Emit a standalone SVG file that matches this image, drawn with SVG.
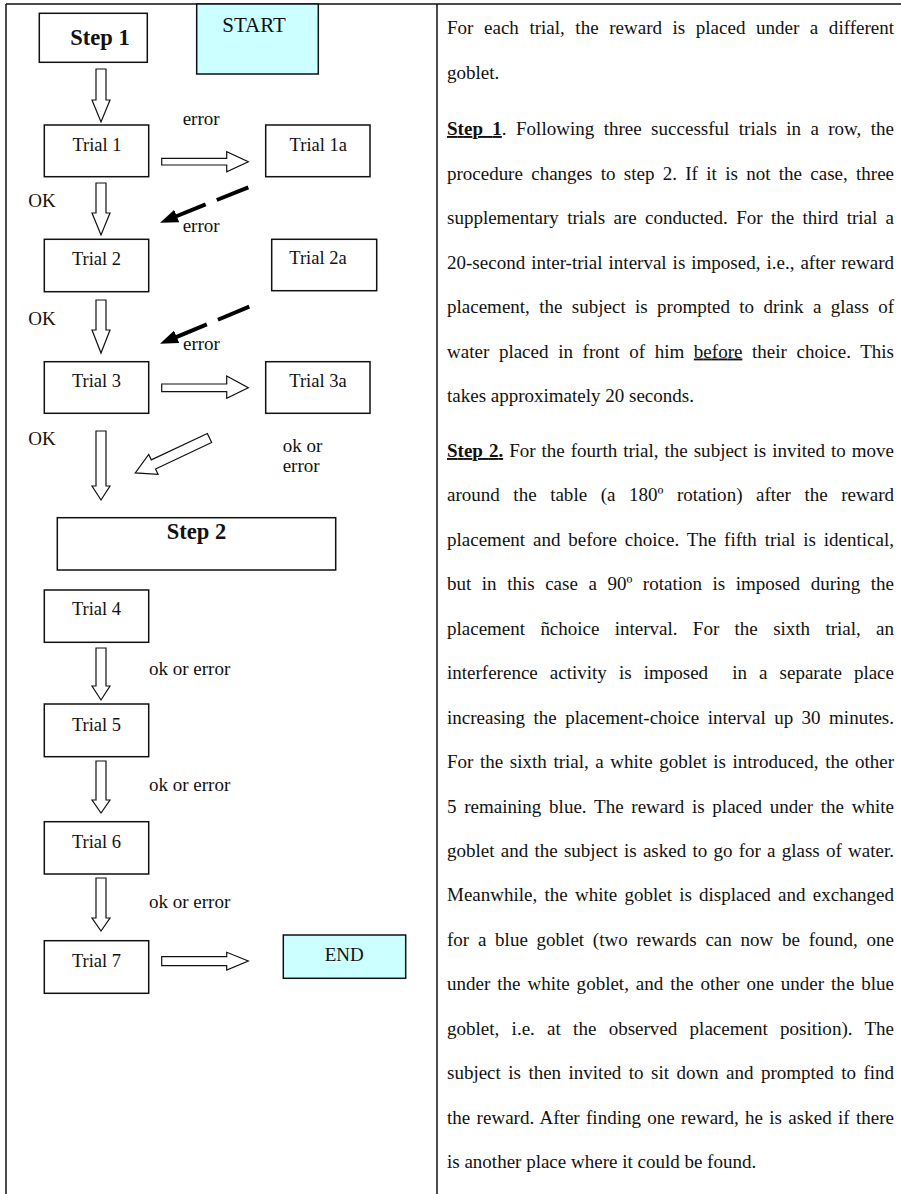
<svg xmlns="http://www.w3.org/2000/svg" width="901" height="1194" viewBox="0 0 901 1194">
<style>
  text { font-family: "Liberation Serif", "Times New Roman", serif; fill: #111; }
  .box { fill: #fff; stroke: #111; stroke-width: 1.5; }
  .cyan { fill: #ccffff; stroke: #111; stroke-width: 1.5; }
  .bt { font-size: 18.5px; text-anchor: middle; }
  .bold { font-size: 22.5px; font-weight: bold; text-anchor: middle; }
  .lbl { font-size: 19px; }
  .body { font-size: 19px; }
  .hollow { fill: #fff; stroke: #111; stroke-width: 1.2; stroke-linejoin: miter; }
  .dash { fill: none; stroke: #000; stroke-width: 4; stroke-dasharray: 34 12; }
  .frame { stroke: #111; stroke-width: 1.5; fill: none; }
  .u { text-decoration: underline; }
  .b { font-weight: bold; }
</style>
<defs>
  <marker id="blackhead" markerUnits="userSpaceOnUse" markerWidth="18" markerHeight="14" viewBox="0 0 16 12" refX="1" refY="6" orient="auto">
    <path d="M0,0 L16,6 L0,12 z" fill="#000"/>
  </marker>
</defs>

<!-- frame -->
<g id="frame">
  <line class="frame" x1="6" y1="4" x2="901" y2="4"/>
  <line class="frame" x1="6" y1="4" x2="6" y2="1194"/>
  <line class="frame" x1="437" y1="4" x2="437" y2="1194"/>
</g>

<!-- nodes -->
<g id="step1"><rect class="box" x="39.3" y="13.3" width="108" height="49"/><text class="bold" x="100" y="45">Step 1</text></g>
<g id="start"><rect class="cyan" x="196.7" y="4" width="121.6" height="70"/><text class="bt" style="font-size:21px" x="254" y="31.5">START</text></g>
<g id="trial1"><rect class="box" x="44.3" y="125" width="104.4" height="51.7"/><text class="bt" x="97" y="150.7">Trial 1</text></g>
<g id="trial1a"><rect class="box" x="265.7" y="125" width="104.3" height="51.7"/><text class="bt" x="318.3" y="150.7">Trial 1a</text></g>
<g id="trial2"><rect class="box" x="44.3" y="239.3" width="104.4" height="52.4"/><text class="bt" x="96.5" y="265">Trial 2</text></g>
<g id="trial2a"><rect class="box" x="271.7" y="239.3" width="105" height="51.4"/><text class="bt" x="318" y="263.5">Trial 2a</text></g>
<g id="trial3"><rect class="box" x="44.3" y="361.7" width="104.4" height="51.6"/><text class="bt" x="96.5" y="386.7">Trial 3</text></g>
<g id="trial3a"><rect class="box" x="265.7" y="361.7" width="104.3" height="51.6"/><text class="bt" x="318" y="386.7">Trial 3a</text></g>
<g id="step2"><rect class="box" x="57.3" y="517.7" width="278.4" height="52.3"/><text class="bold" x="196.5" y="539">Step 2</text></g>
<g id="trial4"><rect class="box" x="44.3" y="590" width="104.4" height="52.3"/><text class="bt" x="96.5" y="615">Trial 4</text></g>
<g id="trial5"><rect class="box" x="44.3" y="704" width="104.4" height="52.7"/><text class="bt" x="96.5" y="730.5">Trial 5</text></g>
<g id="trial6"><rect class="box" x="44.3" y="821.7" width="104.4" height="52.3"/><text class="bt" x="96.5" y="848.3">Trial 6</text></g>
<g id="trial7"><rect class="box" x="44.3" y="940.7" width="104.4" height="52.6"/><text class="bt" x="96.5" y="966.7">Trial 7</text></g>
<g id="end"><rect class="cyan" x="283.3" y="935" width="122.4" height="43.3"/><text class="bt" style="font-size:19px" x="344.3" y="960.7">END</text></g>

<!-- connectors -->
<g id="connectors">
  <!-- vertical hollow arrows -->
  <polygon class="hollow" points="96,69 106,69 106,100 110,100 101,122 92,100 96,100"/>
  <polygon class="hollow" points="96,183 106,183 106,213 110,213 101,235 92,213 96,213"/>
  <polygon class="hollow" points="96,300 106,300 106,330 110,330 101,353 92,330 96,330"/>
  <polygon class="hollow" points="96,431 106,431 106,486 110,486 101,500 92,486 96,486"/>
  <polygon class="hollow" points="96,648 106,648 106,686 110,686 101,700 92,686 96,686"/>
  <polygon class="hollow" points="96,761 106,761 106,800 110,800 101,813 92,800 96,800"/>
  <polygon class="hollow" points="96,878 106,878 106,918 110,918 101,931 92,918 96,918"/>
  <!-- horizontal hollow arrows -->
  <polygon class="hollow" points="161.7,158.3 226.7,158.3 226.7,151.7 248.3,161.7 226.7,171.7 226.7,165 161.7,165"/>
  <polygon class="hollow" points="161.7,384 226.7,384 226.7,376 248.3,387.8 226.7,398.3 226.7,391.7 161.7,391.7"/>
  <polygon class="hollow" points="161.7,956.7 226.7,956.7 226.7,952.3 248.3,961 226.7,970 226.7,965.7 161.7,965.7"/>
  <!-- diagonal hollow arrow -->
  <polygon class="hollow" transform="translate(209.5,438) rotate(154.8)" points="0,-5 62,-5 62,-11 82,0 62,11 62,5 0,5"/>
  <!-- dashed black arrows -->
  <line class="dash" x1="248.3" y1="187.3" x2="175.7" y2="216.5" marker-end="url(#blackhead)"/>
  <line class="dash" x1="249.3" y1="306.7" x2="175.6" y2="337.3" marker-end="url(#blackhead)"/>
  <!-- labels -->
  <text class="lbl" x="182.7" y="125">error</text>
  <text class="lbl" x="28.3" y="206.7">OK</text>
  <text class="lbl" x="182.7" y="231.7">error</text>
  <text class="lbl" x="28.3" y="325">OK</text>
  <text class="lbl" x="183" y="350">error</text>
  <text class="lbl" x="28.3" y="445">OK</text>
  <text class="lbl" x="282.7" y="452">ok or</text>
  <text class="lbl" x="282.7" y="472">error</text>
  <text class="lbl" x="149" y="675">ok or error</text>
  <text class="lbl" x="149" y="790.7">ok or error</text>
  <text class="lbl" x="149" y="907.7">ok or error</text>
</g>

<!-- right column text -->
<g id="description" class="body">
  <text class="body" x="447" y="34.3" textLength="447" lengthAdjust="spacing" word-spacing="5.8">For each trial, the reward is placed under a different</text>
  <text class="body" x="447" y="78.8">goblet.</text>
  <text class="body" x="447" y="135" textLength="447" lengthAdjust="spacing" word-spacing="4.6"><tspan class="b u">Step 1</tspan>. Following three successful trials in a row, the</text>
  <text class="body" x="447" y="179.5" textLength="447" lengthAdjust="spacing" word-spacing="3.6">procedure changes to step 2. If it is not the case, three</text>
  <text class="body" x="447" y="224" textLength="447" lengthAdjust="spacing" word-spacing="3.6">supplementary trials are conducted. For the third trial a</text>
  <text class="body" x="447" y="268.5" textLength="447" lengthAdjust="spacing" word-spacing="1.2">20-second inter-trial interval is imposed, i.e., after reward</text>
  <text class="body" x="447" y="313" textLength="447" lengthAdjust="spacing" word-spacing="4.6">placement, the subject is prompted to drink a glass of</text>
  <text class="body" x="447" y="357.5" textLength="447" lengthAdjust="spacing" word-spacing="4.9">water placed in front of him <tspan class="u">before</tspan> their choice. This</text>
  <text class="body" x="447" y="402">takes approximately 20 seconds.</text>
  <text class="body" x="447" y="457" textLength="447" lengthAdjust="spacing" word-spacing="1.2"><tspan class="b u">Step 2.</tspan> For the fourth trial, the subject is invited to move</text>
  <text class="body" x="447" y="501.4" textLength="447" lengthAdjust="spacing" word-spacing="8.8">around the table (a 180º rotation) after the reward</text>
  <text class="body" x="447" y="545.9" textLength="447" lengthAdjust="spacing" word-spacing="3.1">placement and before choice. The fifth trial is identical,</text>
  <text class="body" x="447" y="590.3" textLength="447" lengthAdjust="spacing" word-spacing="5.8">but in this case a 90º rotation is imposed during the</text>
  <text class="body" x="447" y="634.8" textLength="447" lengthAdjust="spacing" word-spacing="10.6">placement ñchoice interval. For the sixth trial, an</text>
  <text class="body" x="447" y="679.2" textLength="447" lengthAdjust="spacing" word-spacing="7.3" style="white-space:pre">interference activity is imposed  in a separate place</text>
  <text class="body" x="447" y="723.6" textLength="447" lengthAdjust="spacing" word-spacing="3.7">increasing the placement-choice interval up 30 minutes.</text>
  <text class="body" x="447" y="768.1" textLength="447" lengthAdjust="spacing" word-spacing="1.85">For the sixth trial, a white goblet is introduced, the other</text>
  <text class="body" x="447" y="812.5" textLength="447" lengthAdjust="spacing" word-spacing="3">5 remaining blue. The reward is placed under the white</text>
  <text class="body" x="447" y="857" textLength="447" lengthAdjust="spacing" word-spacing="1.4">goblet and the subject is asked to go for a glass of water.</text>
  <text class="body" x="447" y="901.4" textLength="447" lengthAdjust="spacing" word-spacing="2.5">Meanwhile, the white goblet is displaced and exchanged</text>
  <text class="body" x="447" y="945.8" textLength="447" lengthAdjust="spacing" word-spacing="4">for a blue goblet (two rewards can now be found, one</text>
  <text class="body" x="447" y="990.3" textLength="447" lengthAdjust="spacing" word-spacing="2.2">under the white goblet, and the other one under the blue</text>
  <text class="body" x="447" y="1034.7" textLength="447" lengthAdjust="spacing" word-spacing="7.5">goblet, i.e. at the observed placement position). The</text>
  <text class="body" x="447" y="1079.2" textLength="447" lengthAdjust="spacing" word-spacing="2.7">subject is then invited to sit down and prompted to find</text>
  <text class="body" x="447" y="1123.6" textLength="447" lengthAdjust="spacing" word-spacing="1.5">the reward. After finding one reward, he is asked if there</text>
  <text class="body" x="447" y="1168">is another place where it could be found.</text>
</g>
</svg>
